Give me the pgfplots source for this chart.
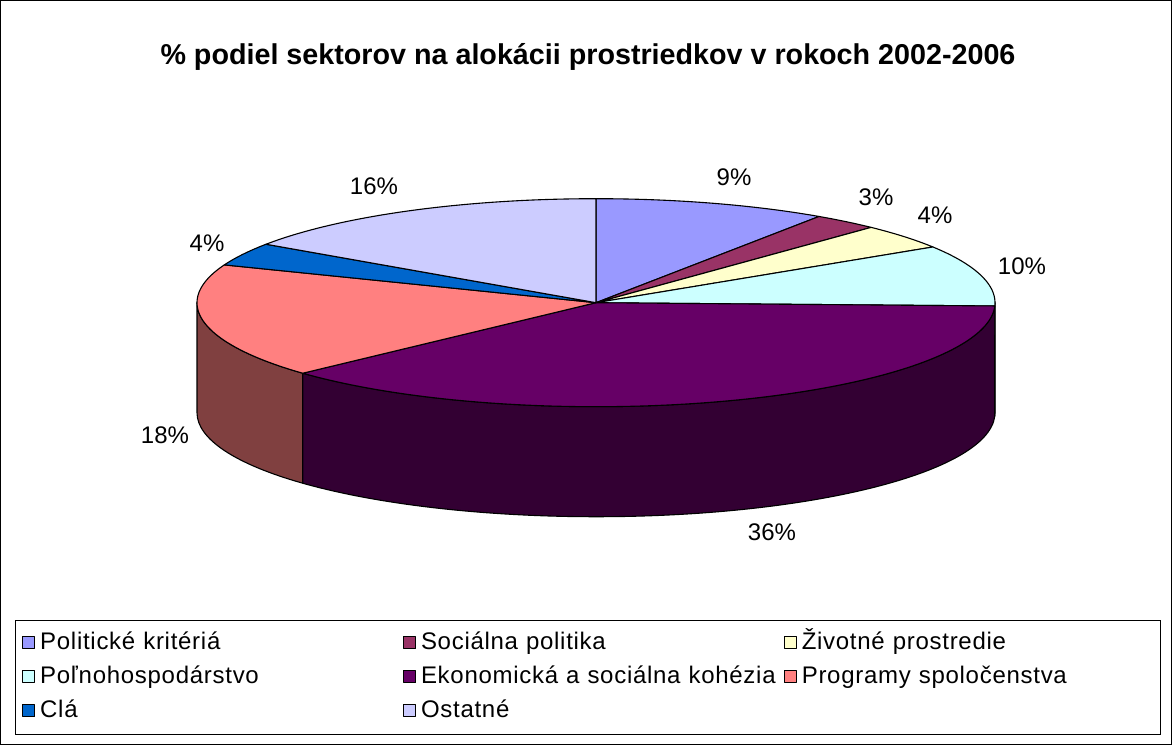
\documentclass[border=0pt]{standalone}
\usepackage{fontspec}
\setmainfont{Liberation Sans}
\newfontfamily\legfont[LetterSpace=3]{Liberation Sans}
\usepackage{pgfplots}
\pgfplotsset{compat=1.18}

\definecolor{cPol}{HTML}{9999FF}
\definecolor{cSoc}{HTML}{993366}
\definecolor{cZiv}{HTML}{FFFFCC}
\definecolor{cPoln}{HTML}{CCFFFF}
\definecolor{cEko}{HTML}{660066}
\definecolor{cPro}{HTML}{FF8080}
\definecolor{cCla}{HTML}{0066CC}
\definecolor{cOst}{HTML}{CCCCFF}
\definecolor{sEko}{HTML}{330033}
\definecolor{sPro}{HTML}{804040}
\definecolor{sPoln}{HTML}{668080}

% pie geometry (1 axis unit = 1pt)
\def\cx{596}
\def\cy{442.3}
\def\rx{399}
\def\ry{104}

% shares of the slices (percent, as drawn), clockwise from 12 o'clock
\pgfmathsetmacro\aA{90}
\pgfmathsetmacro\aB{\aA-3.6*9.44}   % Politicke kriteria
\pgfmathsetmacro\aC{\aB-3.6*2.67}   % Socialna politika
\pgfmathsetmacro\aD{\aC-3.6*3.89}   % Zivotne prostredie
\pgfmathsetmacro\aE{\aD-3.6*9.50}   % Polnohospodarstvo
\pgfmathsetmacro\aF{\aE-3.6*37.64}  % Ekonomicka a socialna kohezia
\pgfmathsetmacro\aG{\aF-3.6*17.78}  % Programy spolocenstva
\pgfmathsetmacro\aH{\aG-3.6*3.58}   % Cla
\pgfmathsetmacro\aI{\aH-3.6*15.50}  % Ostatne

\begin{document}
\begin{tikzpicture}
\begin{axis}[
  width=1172pt, height=745pt, scale only axis,
  xmin=0, xmax=1172, ymin=0, ymax=745,
  enlargelimits=false, hide axis, clip=false,
  legend columns=3,
  legend cell align=left,
  legend image code/.code={\draw[#1,line width=0.8pt] (0pt,-5pt) rectangle (12pt,7pt);},
  legend style={at={(axis cs:15,10)}, anchor=south west, draw=black, line width=0.8pt,
    font=\legfont\fontsize{24}{24}\selectfont, inner xsep=7pt, inner ysep=12pt, row sep=12pt,
    nodes={inner sep=0pt, text height=17pt, text depth=5pt},
    /tikz/every odd column/.append style={column sep=5pt},
    /tikz/every even column/.append style={column sep=11pt, text width=352pt}},
]
% outer frame
\draw[black, line width=1pt] (axis cs:0.5,0.5) rectangle (axis cs:1171.5,744.5);

% side walls (front half)
\addplot[fill=sPro, draw=black, line width=1.1pt, line join=round, forget plot, domain=-180:\aF, samples=30]
  ({\cx+\rx*cos(x)},{\cy+\ry*sin(x)}) -- ++(0pt,-110pt)
  arc[start angle=\aF, end angle=-180, x radius=399pt, y radius=104pt] -- cycle;
\addplot[fill=sEko, draw=black, line width=1.1pt, line join=round, forget plot, domain=\aF:\aE, samples=90]
  ({\cx+\rx*cos(x)},{\cy+\ry*sin(x)}) -- ++(0pt,-110pt)
  arc[start angle=\aE, end angle=\aF, x radius=399pt, y radius=104pt] -- cycle;
\addplot[fill=sPoln, draw=black, line width=1.1pt, line join=round, forget plot, domain=\aE:0, samples=5]
  ({\cx+\rx*cos(x)},{\cy+\ry*sin(x)}) -- ++(0pt,-110pt)
  arc[start angle=0, end angle=\aE, x radius=399pt, y radius=104pt] -- cycle;

% top face
\addplot[fill=cPol, draw=black, line width=1.1pt, line join=round, domain=\aB:\aA, samples=40]
  ({\cx+\rx*cos(x)},{\cy+\ry*sin(x)}) -- (axis cs:\cx,\cy) -- cycle;
\addlegendentry{\mbox{Politické kritériá}}
\addplot[fill=cSoc, draw=black, line width=1.1pt, line join=round, domain=\aC:\aB, samples=15]
  ({\cx+\rx*cos(x)},{\cy+\ry*sin(x)}) -- (axis cs:\cx,\cy) -- cycle;
\addlegendentry{\mbox{Sociálna politika}}
\addplot[fill=cZiv, draw=black, line width=1.1pt, line join=round, domain=\aD:\aC, samples=15]
  ({\cx+\rx*cos(x)},{\cy+\ry*sin(x)}) -- (axis cs:\cx,\cy) -- cycle;
\addlegendentry{\mbox{Životné prostredie}}
\addplot[fill=cPoln, draw=black, line width=1.1pt, line join=round, domain=\aE:\aD, samples=40]
  ({\cx+\rx*cos(x)},{\cy+\ry*sin(x)}) -- (axis cs:\cx,\cy) -- cycle;
\addlegendentry{\mbox{Poľnohospodárstvo}}
\addplot[fill=cEko, draw=black, line width=1.1pt, line join=round, domain=\aF:\aE, samples=100]
  ({\cx+\rx*cos(x)},{\cy+\ry*sin(x)}) -- (axis cs:\cx,\cy) -- cycle;
\addlegendentry{\mbox{Ekonomická a sociálna kohézia}}
\addplot[fill=cPro, draw=black, line width=1.1pt, line join=round, domain=\aG:\aF, samples=60]
  ({\cx+\rx*cos(x)},{\cy+\ry*sin(x)}) -- (axis cs:\cx,\cy) -- cycle;
\addlegendentry{\mbox{Programy spoločenstva}}
\addplot[fill=cCla, draw=black, line width=1.1pt, line join=round, domain=\aH:\aG, samples=15]
  ({\cx+\rx*cos(x)},{\cy+\ry*sin(x)}) -- (axis cs:\cx,\cy) -- cycle;
\addlegendentry{\mbox{Clá}}
\addplot[fill=cOst, draw=black, line width=1.1pt, line join=round, domain=\aI:\aH, samples=50]
  ({\cx+\rx*cos(x)},{\cy+\ry*sin(x)}) -- (axis cs:\cx,\cy) -- cycle;
\addlegendentry{\mbox{Ostatné}}

% data labels
\begin{scope}[every node/.style={font=\fontsize{24}{24}\selectfont, inner sep=0pt}]
\node at (axis cs:734,568) {9\%};
\node at (axis cs:876,548) {3\%};
\node at (axis cs:935,530) {4\%};
\node at (axis cs:1022,479) {10\%};
\node at (axis cs:772,213) {36\%};
\node at (axis cs:165,310) {18\%};
\node at (axis cs:207,502) {4\%};
\node at (axis cs:374,559) {16\%};
\end{scope}

% title
\node[font=\fontsize{28.7}{30}\selectfont\bfseries, inner sep=0pt] at (axis cs:588,688)
  {\% podiel sektorov na alokácii prostriedkov v rokoch 2002-2006};
\end{axis}
\end{tikzpicture}
\end{document}
